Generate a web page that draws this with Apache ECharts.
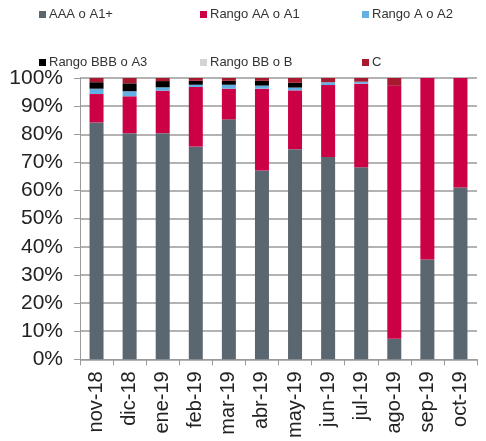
<!DOCTYPE html>
<html>
<head>
<meta charset="utf-8">
<script src="https://cdn.jsdelivr.net/npm/echarts@6/dist/echarts.min.js"></script>
<style>
  html, body { margin: 0; padding: 0; background: #fff; }
  #main { width: 486px; height: 441px; }
</style>
</head>
<body>
<div id="main"></div>
<script>
var months = ['nov-18','dic-18','ene-19','feb-19','mar-19','abr-19','may-19','jun-19','jul-19','ago-19','sep-19','oct-19']
var seriesNames = ['AAA o A1+','Rango AA o A1','Rango A o A2','Rango BBB o A3','Rango BB o B','C']
var aaa = [84.2, 80.4, 80.4, 75.6, 85.3, 67.1, 74.7, 71.9, 68.3, 7.3, 35.5, 61.1]
var aa  = [10.1, 13.1, 15.1, 21.2, 10.9, 29.1, 20.9, 25.6, 29.7, 89.9, 64.5, 38.9]
var a   = [1.9, 1.8, 1.2, 0.8, 1.4, 1.1, 1.0, 1.0, 0.7, 0, 0, 0]
var bbb = [2.3, 2.8, 2.2, 1.4, 1.4, 1.7, 1.7, 0, 0, 0, 0, 0]
var bb  = [0, 0, 0, 0, 0, 0, 0, 0, 0, 0, 0, 0]
var c   = [1.5, 1.9, 1.1, 1.0, 1.0, 1.0, 1.7, 1.5, 1.3, 2.8, 0, 0]

var colors = ['#5b6770', '#cc0044', '#62b0e4', '#000000', '#d4d4d4', '#a8182e']
var values = [aaa, aa, a, bbb, bb, c]

var myChart = echarts.init(document.getElementById('main'));

// legend laid out in 2 rows x 3 columns
var legendLeft = [39, 200, 362]
var legendTop = [8, 56]
var legends = seriesNames.map(function (name, i) {
  return {
    data: [name],
    left: legendLeft[i % 3],
    top: legendTop[Math.floor(i / 3)],
    icon: 'rect',
    itemWidth: 7,
    itemHeight: 7,
    itemGap: 0,
    padding: 0,
    textStyle: { fontFamily: 'Liberation Sans', fontSize: 13, color: '#333', padding: [0, 0, 0, -2] }
  }
})

var axisGray = '#9a9a9a'

var option = {
  animation: false,
  color: colors,
  legend: legends,
  grid: { left: 80, right: 9, top: 78, bottom: 81 },
  xAxis: {
    type: 'category',
    data: months,
    axisLine: { lineStyle: { color: axisGray, width: 1 } },
    axisTick: { show: true, interval: 0, length: 6, lineStyle: { color: axisGray } },
    axisLabel: {
      rotate: 90,
      interval: 0,
      margin: 12,
      fontFamily: 'Liberation Sans',
      fontSize: 20,
      color: '#222'
    }
  },
  yAxis: {
    type: 'value',
    min: 0,
    max: 100,
    interval: 10,
    axisLine: { show: true, lineStyle: { color: axisGray, width: 1 } },
    axisTick: { show: true, length: 6, lineStyle: { color: axisGray } },
    splitLine: { lineStyle: { color: '#b3b3b3', width: 2 } },
    axisLabel: {
      formatter: '{value}%',
      margin: 17,
      fontFamily: 'Liberation Sans',
      fontSize: 21,
      color: '#222'
    }
  },
  series: seriesNames.map(function (name, i) {
    return {
      name: name,
      type: 'bar',
      stack: 'total',
      barWidth: 14,
      data: values[i]
    }
  })
};
myChart.setOption(option)
</script>
</body>
</html>
